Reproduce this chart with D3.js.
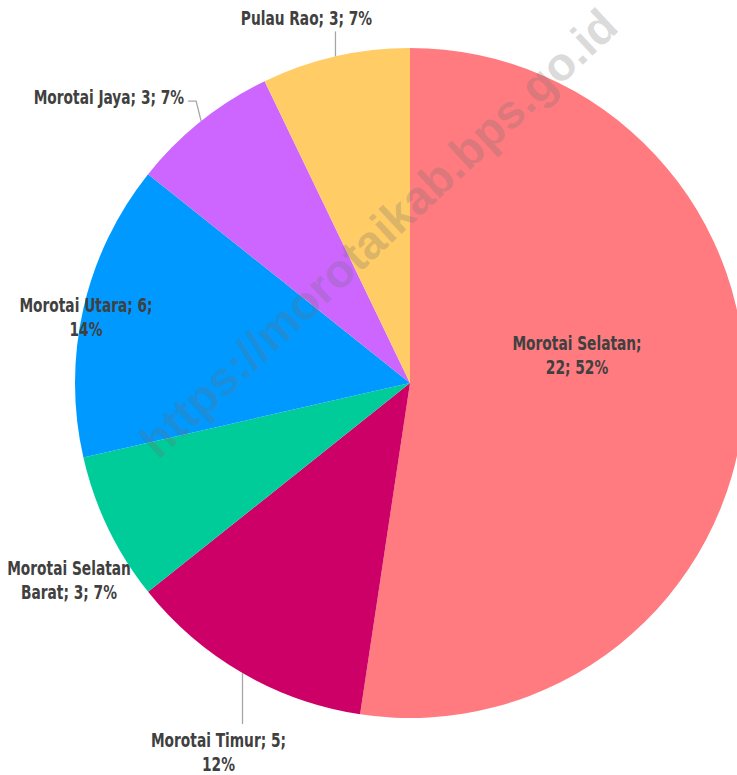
<!DOCTYPE html>
<html><head><meta charset="utf-8">
<script src="https://cdn.jsdelivr.net/npm/d3@7"></script>
<style>
html,body{margin:0;padding:0;background:#fff;}
svg{display:block;}
.lbl{font-family:"Liberation Sans Narrow","DejaVu Sans Condensed","Roboto Condensed",sans-serif;font-weight:bold;font-size:19.5px;fill:#404040;}
</style></head>
<body>
<svg id="chart" width="737" height="775"></svg>
<script>
const categories = ["Morotai Selatan","Morotai Timur","Morotai Selatan Barat","Morotai Utara","Morotai Jaya","Pulau Rao"];
const values = [22,5,3,6,3,3];
const percents = ["52%","12%","7%","14%","7%","7%"];
const colors = ["#FF7B80","#CC0066","#00CC99","#0099FF","#CC66FF","#FFCC66"];
const labelLines = [
  ["Morotai Selatan;","22; 52%"],
  ["Morotai Timur; 5;","12%"],
  ["Morotai Selatan","Barat; 3; 7%"],
  ["Morotai Utara; 6;","14%"],
  ["Morotai Jaya; 3; 7%"],
  ["Pulau Rao; 3; 7%"]
];
const watermark = "https://morotaikab.bps.go.id";

const W = 737, H = 775;
const cx = 410, cy = 383, R = 335;
const svg = d3.select("#chart");

const data = categories.map((c,i)=>({name:c,value:values[i],pct:percents[i],color:colors[i],lines:labelLines[i]}));
const pie = d3.pie().sort(null).value(d=>d.value);
const arc = d3.arc().innerRadius(0).outerRadius(R);
const arcs = pie(data);

const g = svg.append("g").attr("transform",`translate(${cx},${cy})`);
g.selectAll("path").data(arcs).enter().append("path")
  .attr("d",arc).attr("fill",d=>d.data.color);

function pt(a,r){return [Math.sin(a)*r, -Math.cos(a)*r];}
const mid = d=>(d.startAngle+d.endAngle)/2;

const layout = {
  "Morotai Selatan": {type:"inside", dx:167, dy:-33},
  "Morotai Timur": {type:"leaderDown", len:51, textDx:-24},
  "Morotai Selatan Barat": {type:"free", dx:-341, dy:192},
  "Morotai Utara": {type:"free", dx:-324, dy:-71},
  "Morotai Jaya": {type:"leaderElbow"},
  "Pulau Rao": {type:"leaderUp", len:25}
};
const lineH = 24.5;
const sx = 0.785;
const lbl = svg.append("g");
arcs.forEach(d=>{
  const L = layout[d.data.name];
  const a = mid(d);
  const p = pt(a,R);
  let tx, ty, anchor="middle";
  if(L.type==="inside"||L.type==="free"){
    tx = cx + L.dx; ty = cy + L.dy;
  } else if(L.type==="leaderUp"){
    const x = cx+p[0], y = cy+p[1];
    lbl.append("path").attr("d",`M${x},${y}V${y-L.len}`).attr("stroke","#a6a6a6").attr("stroke-width",1.3).attr("fill","none");
    tx = x-29; ty = y-L.len-6;
  } else if(L.type==="leaderDown"){
    const x = cx+p[0], y = cy+p[1];
    lbl.append("path").attr("d",`M${x},${y}V${y+L.len}`).attr("stroke","#a6a6a6").attr("stroke-width",1.3).attr("fill","none");
    tx = x+L.textDx; ty = y+L.len+22.5;
  } else if(L.type==="leaderElbow"){
    const x = cx+p[0], y = cy+p[1];
    lbl.append("path").attr("d",`M${x},${y}L${x-5},${y-20}H${x-13}`).attr("stroke","#a6a6a6").attr("stroke-width",1.3).attr("fill","none");
    tx = x-17; ty = y-17; anchor="end";
  }
  const t = lbl.append("text").attr("class","lbl").attr("text-anchor",anchor)
    .attr("transform",`translate(${tx},${ty}) scale(${sx},1)`);
  d.data.lines.forEach((ln,i)=>{
    t.append("tspan").attr("x",0).attr("y",i*lineH).text(ln);
  });
});

svg.append("text")
  .attr("transform",`translate(381,236) rotate(-43)`)
  .attr("text-anchor","middle").attr("dominant-baseline","middle")
  .style("font-family","'Liberation Sans',Arial,sans-serif")
  .style("font-weight","bold").style("font-size","47px")
  .attr("fill","#6f6f6f").attr("fill-opacity",0.25)
  .text(watermark);
</script>
</body></html>
